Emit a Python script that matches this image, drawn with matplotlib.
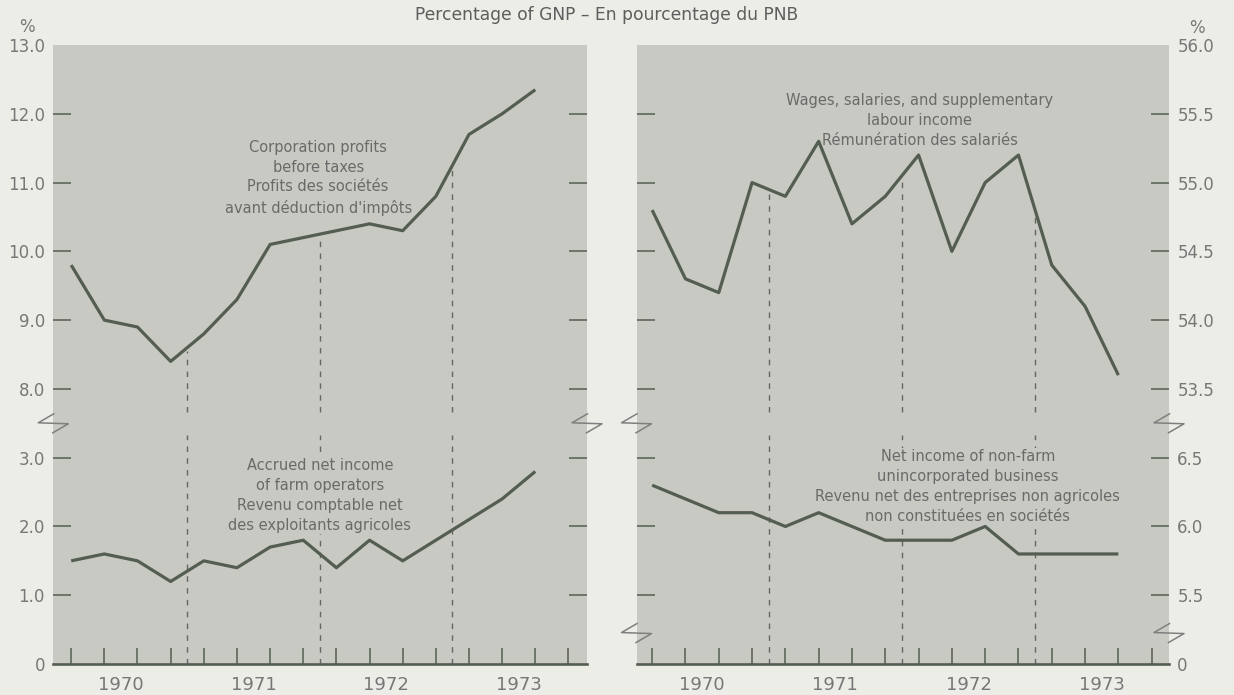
import numpy as np
import matplotlib
matplotlib.use("Agg")
import matplotlib.pyplot as plt
import matplotlib.transforms as mtransforms

# ---------------- data ----------------
quarters = ["1970Q1", "1970Q2", "1970Q3", "1970Q4",
            "1971Q1", "1971Q2", "1971Q3", "1971Q4",
            "1972Q1", "1972Q2", "1972Q3", "1972Q4",
            "1973Q1", "1973Q2", "1973Q3"]
axis_quarters = quarters + ["1973Q4"]
years = ["1970", "1971", "1972", "1973"]

corp_profits = [9.8, 9.0, 8.9, 8.4, 8.8, 9.3, 10.1, 10.2, 10.3, 10.4, 10.3, 10.8, 11.7, 12.0, 12.35]
farm_income = [1.5, 1.6, 1.5, 1.2, 1.5, 1.4, 1.7, 1.8, 1.4, 1.8, 1.5, 1.8, 2.1, 2.4, 2.8]
wages = [54.8, 54.3, 54.2, 55.0, 54.9, 55.3, 54.7, 54.9, 55.2, 54.5, 55.0, 55.2, 54.4, 54.1, 53.6]
nonfarm = [6.3, 6.2, 6.1, 6.1, 6.0, 6.1, 6.0, 5.9, 5.9, 5.9, 6.0, 5.8, 5.8, 5.8, 5.8]

left_upper_ticks = [8.0, 9.0, 10.0, 11.0, 12.0, 13.0]
left_upper_labels = ["8.0", "9.0", "10.0", "11.0", "12.0", "13.0"]
left_lower_ticks = [0.0, 1.0, 2.0, 3.0]
left_lower_labels = ["0", "1.0", "2.0", "3.0"]
right_upper_ticks = [53.5, 54.0, 54.5, 55.0, 55.5, 56.0]
right_upper_labels = ["53.5", "54.0", "54.5", "55.0", "55.5", "56.0"]
right_lower_ticks = [5.0, 5.5, 6.0, 6.5]
right_lower_labels = ["0", "5.5", "6.0", "6.5"]

title = "Percentage of GNP – En pourcentage du PNB"
txt_corp = "Corporation profits\nbefore taxes\nProfits des sociétés\navant déduction d'impôts"
txt_farm = "Accrued net income\nof farm operators\nRevenu comptable net\ndes exploitants agricoles"
txt_wages = "Wages, salaries, and supplementary\nlabour income\nRémunération des salariés"
txt_nonfarm = ("Net income of non-farm\nunincorporated business\n"
               "Revenu net des entreprises non agricoles\nnon constituées en sociétés")

# ---------------- style ----------------
BG = "#ecede7"
PANEL = "#c8c9c2"
LINE = "#545d51"
TEXT = "#6a6a6a"
TICKTXT = "#777777"
BREAK = "#7f7f7f"

plt.rcParams["font.family"] = ["DejaVu Sans"]

W, H = 1234, 695
fig = plt.figure(figsize=(W / 100, H / 100), dpi=100, facecolor=BG)


def px_axes(x0, x1, ytop, ybot):
    return fig.add_axes([x0 / W, (H - ybot) / H, (x1 - x0) / W, (ybot - ytop) / H])


Y_TOP, Y_BRK, Y_BOT = 45, 423.3, 664
x = np.arange(len(quarters))
slots = np.arange(len(axis_quarters))
year_pos = np.arange(len(years)) * 4 + 1.5
bounds = np.array([3.5, 7.5, 11.5])


def make_pair(x0, x1, xlim):
    up = px_axes(x0, x1, Y_TOP, Y_BRK)
    lo = px_axes(x0, x1, Y_BRK, Y_BOT)
    for ax in (up, lo):
        ax.set_facecolor(PANEL)
        for s in ax.spines.values():
            s.set_visible(False)
        ax.set_xlim(*xlim)
    lo.spines["bottom"].set_visible(True)
    lo.spines["bottom"].set_color(LINE)
    lo.spines["bottom"].set_linewidth(1.9)
    up.set_xticks([])
    lo.set_xticks(slots)
    lo.set_xticks(year_pos, labels=years, minor=True)
    lo.tick_params(axis="x", which="major", direction="in", length=11.5, width=1.1,
                   color=LINE, labelbottom=False)
    lo.tick_params(axis="x", which="minor", length=0, pad=9, labelsize=13,
                   labelcolor=TICKTXT)
    return up, lo


def set_y(ax, vals, labels, side, hide_idx):
    ax.set_ylim(ax.get_ylim())
    ax.set_yticks(vals, labels=labels)
    ax.tick_params(axis="y", direction="in", length=13, width=1.1, color=LINE,
                   left=True, right=True,
                   labelleft=(side == "left"), labelright=(side == "right"),
                   labelsize=12, labelcolor=TICKTXT, pad=6)
    t = ax.yaxis.get_major_ticks()[hide_idx]
    t.tick1line.set_visible(False)
    t.tick2line.set_visible(False)


def draw_break(ax, xf, yf):
    tr = fig.dpi_scale_trans + mtransforms.ScaledTranslation(xf, yf, ax.transAxes)
    sx = np.array([0.5, -15, 15, -0.5]) / 100
    sy = np.array([9.5, 0.5, -0.5, -9.5]) / 100
    ax.plot(sx, sy, transform=tr, color=BREAK, lw=1.1, clip_on=False, zorder=6)


def dashed(ax, y0, y1):
    ax.vlines(bounds, y0, y1, colors="#666666", linestyles=(0, (4, 4.5)), lw=1.0, zorder=1.5)


# ---------------- left panel ----------------
upL, loL = make_pair(53.3, 587, (-0.54, 15.56))
upL.set_ylim(7.5, 13.0)
loL.set_ylim(0.0, 3.5)
set_y(upL, left_upper_ticks, left_upper_labels, "left", -1)
set_y(loL, left_lower_ticks, left_lower_labels, "left", 0)

upL.plot(x, corp_profits, color=LINE, lw=2.3, zorder=3, solid_capstyle="butt")
loL.plot(x, farm_income, color=LINE, lw=2.3, zorder=3, solid_capstyle="butt")

topL = np.interp(bounds, x, corp_profits) - 0.05
dashed(upL, 7.67, topL)
dashed(loL, 0.0, 3.33)

upL.text(7.45, 11.07, txt_corp, ha="center", va="center", fontsize=10.5, color=TEXT,
         linespacing=1.4, zorder=2.5, bbox=dict(fc=PANEL, ec="none", pad=1))
loL.text(7.5, 2.45, txt_farm, ha="center", va="center", fontsize=10.5, color=TEXT,
         linespacing=1.4, zorder=2.5, bbox=dict(fc=PANEL, ec="none", pad=1))

draw_break(loL, 0.0, 1.0)
draw_break(loL, 1.0, 1.0)

# ---------------- right panel ----------------
upR, loR = make_pair(636.5, 1169, (-0.47, 15.52))
upR.set_ylim(53.25, 56.0)
loR.set_ylim(5.0, 6.75)
set_y(upR, right_upper_ticks, right_upper_labels, "right", -1)
set_y(loR, right_lower_ticks, right_lower_labels, "right", 0)

upR.plot(x, wages, color=LINE, lw=2.3, zorder=3, solid_capstyle="butt")
loR.plot(x, nonfarm, color=LINE, lw=2.3, zorder=3, solid_capstyle="butt")

topR = np.interp(bounds, x, wages) - 0.03
dashed(upR, 53.335, topR)
dashed(loR, 5.0, 6.665)

upR.text(8.04, 55.45, txt_wages, ha="center", va="center", fontsize=10.5, color=TEXT,
         linespacing=1.4, zorder=2.5, bbox=dict(fc=PANEL, ec="none", pad=1))
loR.text(9.48, 6.29, txt_nonfarm, ha="center", va="center", fontsize=10.5, color=TEXT,
         linespacing=1.4, zorder=2.5, bbox=dict(fc=PANEL, ec="none", pad=1))

for xf in (0.0, 1.0):
    draw_break(loR, xf, 1.0)
    draw_break(loR, xf, 0.45 / 3.5)

# ---------------- figure texts ----------------
fig.text(607 / W, 1 - 15 / H, title, ha="center", va="center", fontsize=12.3, color="#5e5e5e")
fig.text(27 / W, 1 - 27 / H, "%", ha="center", va="center", fontsize=12, color=TICKTXT)
fig.text(1197 / W, 1 - 28 / H, "%", ha="center", va="center", fontsize=12, color=TICKTXT)

fig.savefig("out.png", dpi=100, facecolor=BG)
